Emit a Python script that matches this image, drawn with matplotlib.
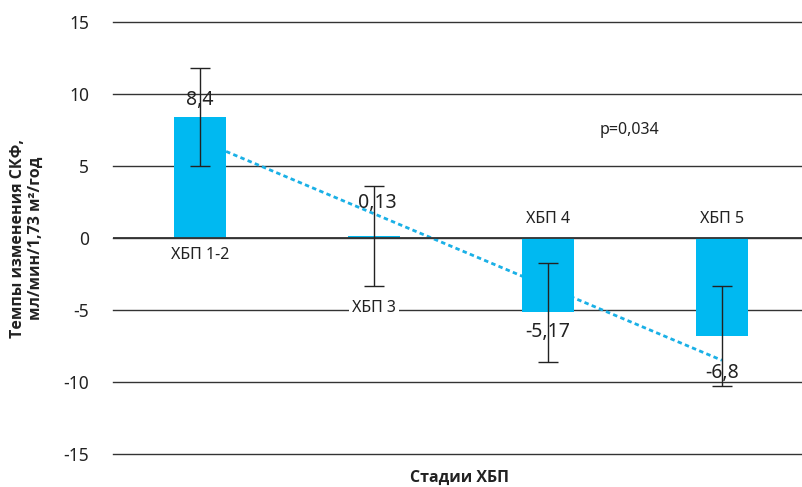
import numpy as np
import matplotlib.pyplot as plt

plt.rcParams['font.family'] = ['Noto Sans', 'DejaVu Sans']

stages = ["ХБП 1-2", "ХБП 3", "ХБП 4", "ХБП 5"]
values = [8.4, 0.13, -5.17, -6.8]
errors = [3.4, 3.45, 3.45, 3.45]
value_labels = ["8,4", "0,13", "-5,17", "-6,8"]
p_text = "p=0,034"
yticks = [-15, -10, -5, 0, 5, 10, 15]

bar_color = "#00b9f1"
x = np.arange(len(stages))
W, H = 803, 487

fig = plt.figure(figsize=(W / 100, H / 100), dpi=100)
ax = fig.add_axes([113 / W, (H - 454) / H, 690 / W, 432 / H])

# bars (ХБП 3 value is tiny, effectively invisible)
ax.bar(x, values, width=0.3, color=bar_color, zorder=3)
ax.axhline(0, color='#333333', lw=1.3, zorder=3.5)
ax.errorbar(x, values, yerr=errors, fmt='none', ecolor='#222222',
            elinewidth=1, capsize=7, capthick=1, zorder=4)

# linear trend line, starting at right edge of first bar
k, b = np.polyfit(x, values, 1)
tx = np.array([x[0] + 0.15, x[-1]])
ax.plot(tx, k * tx + b, color='#1ab0e6', lw=2, ls=(0, (1.6, 1.2)), zorder=2)

# value labels
val_y = [9.6, 2.4, -6.5, -9.4]
val_dx = [0, 0.02, 0, 0]
for i, (lab, vy) in enumerate(zip(value_labels, val_y)):
    ax.text(x[i] + val_dx[i], vy, lab, ha='center', va='center',
            fontsize=14, color='#222222', zorder=5)

# category labels placed near the bars
cat_y = [-1.15, -4.85, 1.35, 1.35]
for i, (lab, cy) in enumerate(zip(stages, cat_y)):
    bg = dict(facecolor='white', edgecolor='none', pad=2) if i == 1 else None
    ax.text(x[i], cy, lab, ha='center', va='center', fontsize=11.5,
            color='#222222', bbox=bg, zorder=5)

ax.text(2.47, 7.5, p_text, ha='center', va='center', fontsize=11.5,
        color='#222222')

ax.set_ylim(-15, 15)
ax.set_xlim(-0.5, (803 - 200) / 174)
ax.set_yticks(yticks)
ax.set_yticklabels([str(t) for t in yticks])
ax.set_xticks([])
ax.yaxis.grid(True, color='#333333', lw=1)
for gl in ax.get_ygridlines():
    gl.set_clip_on(False)
ax.set_axisbelow(True)
for s in ax.spines.values():
    s.set_visible(False)
ax.tick_params(axis='y', length=0, pad=17, labelsize=12.5, labelcolor='#222222')

bold = ['Open Sans', 'DejaVu Sans']
fig.text(27 / W, 1 - 238 / H, "Темпы изменения СКФ,\nмл/мин/1,73 м²/год",
         rotation=90, ha='center', va='center', multialignment='center',
         fontsize=11.5, fontweight='bold', family=bold, color='#222222',
         linespacing=1.1)
fig.text(460 / W, 1 - 478 / H, "Стадии ХБП", ha='center', va='center',
         fontsize=11.5, fontweight='bold', family=bold, color='#222222')

fig.savefig("out.png", dpi=100)
